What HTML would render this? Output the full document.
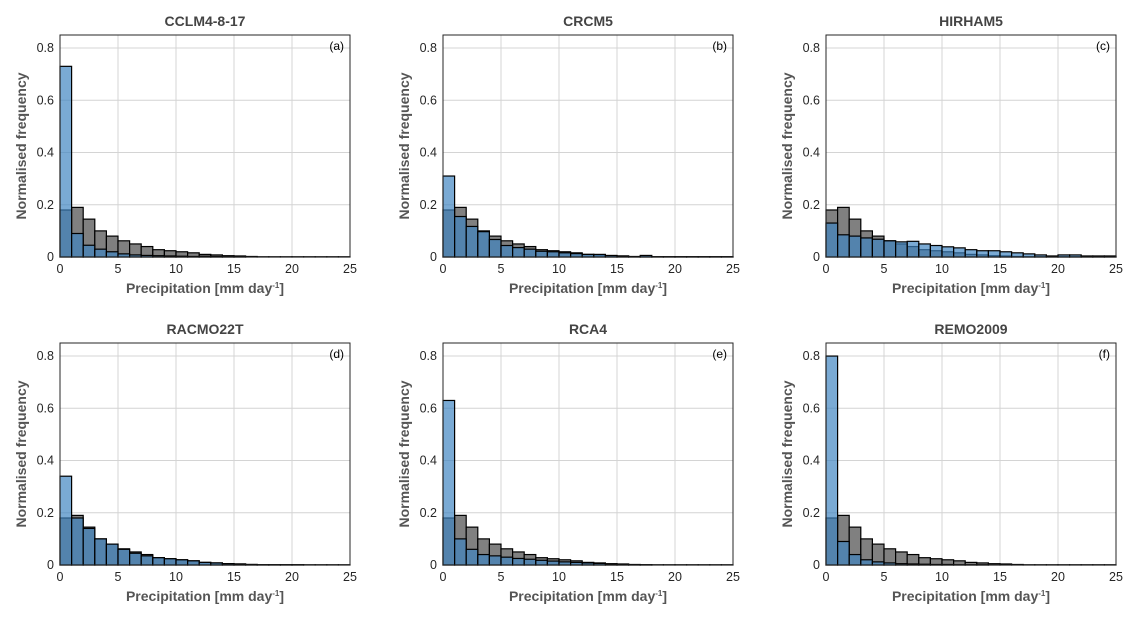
<!DOCTYPE html>
<html><head><meta charset="utf-8"><style>
body{margin:0;background:#fff;}
svg text{font-family:"Liberation Sans",sans-serif;}
</style></head><body>
<svg id="fig" width="1143" height="626" viewBox="0 0 1143 626"></svg>
<script>
const binEdges=[0,1,2,3,4,5,6,7,8,9,10,11,12,13,14,15,16,17,18,19,20,21,22,23,24,25];
const observed=[0.18,0.19,0.145,0.10,0.08,0.062,0.05,0.04,0.028,0.024,0.02,0.016,0.01,0.008,0.005,0.004,0.002,0.001,0.001,0.001,0.001,0.001,0.001,0.001,0.001];
const cclm=[0.73,0.09,0.045,0.03,0.02,0.012,0.008,0.006,0.005,0.004,0.003,0.002,0.003,0.002,0.001,0.001,0,0,0,0,0,0,0,0,0];
const crcm=[0.31,0.155,0.117,0.097,0.067,0.044,0.036,0.03,0.022,0.02,0.016,0.013,0.01,0.01,0.006,0.004,0.001,0.006,0.001,0.001,0.001,0.001,0.001,0.001,0.001];
const hirham=[0.13,0.085,0.08,0.073,0.068,0.062,0.058,0.06,0.05,0.044,0.039,0.035,0.028,0.024,0.024,0.02,0.016,0.012,0.008,0.004,0.008,0.008,0.004,0.004,0.004];
const racmo=[0.34,0.18,0.14,0.1,0.08,0.06,0.045,0.035,0.028,0.024,0.02,0.016,0.01,0.008,0.005,0.004,0.002,0.001,0.001,0.001,0.001,0,0,0,0];
const rca=[0.63,0.1,0.06,0.04,0.035,0.03,0.025,0.022,0.018,0.015,0.012,0.01,0.008,0.006,0.004,0.003,0.001,0.001,0,0,0,0,0,0,0];
const remo=[0.80,0.09,0.04,0.02,0.012,0.008,0.005,0.004,0.003,0.002,0.002,0.001,0.001,0.001,0,0,0,0,0,0,0,0,0,0,0];
const titles=["CCLM4-8-17","CRCM5","HIRHAM5","RACMO22T","RCA4","REMO2009"];
const letters=["(a)","(b)","(c)","(d)","(e)","(f)"];
const models=[cclm,crcm,hirham,racmo,rca,remo];
const xTicks=[0,5,10,15,20,25];
const yTicks=[0,0.2,0.4,0.6,0.8];

const NS="http://www.w3.org/2000/svg";
const svg=document.getElementById('fig');
function mk(tag,attrs,parent){const e=document.createElementNS(NS,tag);for(const k in attrs)e.setAttribute(k,attrs[k]);(parent||svg).appendChild(e);return e;}
const colX=[60,443,826],rowY=[257,565],W=290,YMAX=0.85,H=222;
models.forEach((m,i)=>{
  const x0=colX[i%3],y0=rowY[Math.floor(i/3)];
  const g=mk('g',{});
  
  
  const sx=v=>x0+v/25*W, sy=v=>y0-v/YMAX*H;
  mk('rect',{x:x0,y:y0-H,width:W,height:H,fill:'#fff'},g);
  xTicks.forEach(t=>{if(t>0&&t<25){const l=mk('line',{x1:sx(t),x2:sx(t),y1:y0,y2:y0-H,stroke:'#d4d4d4','stroke-width':1},g);}
    const tx=mk('text',{x:sx(t),y:y0+16,'text-anchor':'middle','font-size':12.5,fill:'#262626'},g);tx.textContent=t;
    });
  yTicks.forEach(t=>{if(t>0){const l=mk('line',{x1:x0,x2:x0+W,y1:sy(t),y2:sy(t),stroke:'#d4d4d4','stroke-width':1},g);}
    const tx=mk('text',{x:x0-6,y:sy(t)+4,'text-anchor':'end','font-size':12.5,fill:'#262626'},g);tx.textContent=t;
    });
  observed.forEach((v,k)=>{if(v<=0)return;const r=mk('rect',{x:sx(binEdges[k]),y:sy(v),width:sx(binEdges[k+1])-sx(binEdges[k]),height:y0-sy(v),fill:'#808080',stroke:'#000','stroke-width':1.2},g);
    });
  m.forEach((v,k)=>{if(v<=0)return;const r=mk('rect',{x:sx(binEdges[k]),y:sy(v),width:sx(binEdges[k+1])-sx(binEdges[k]),height:y0-sy(v),fill:'rgb(62,132,193)','fill-opacity':0.69,stroke:'#000','stroke-width':1.2},g);
    });
  const b=mk('rect',{x:x0,y:y0-H,width:W,height:H,fill:'none',stroke:'#262626','stroke-width':1},g);
  
  const t=mk('text',{x:x0+W/2,y:y0-H-9,'text-anchor':'middle','font-size':14,'font-weight':'bold',fill:'#444'},g);t.textContent=titles[i];
  
  const lt=mk('text',{x:x0+W-6,y:y0-H+15,'text-anchor':'end','font-size':12,fill:'#000'},g);lt.textContent=letters[i];
  
  const xl=mk('text',{x:x0+W/2,y:y0+36,'text-anchor':'middle','font-size':14,'font-weight':'bold',fill:'#555'},g);
  xl.innerHTML='Precipitation [mm day<tspan dy="-5" font-size="8">-1</tspan><tspan dy="5">]</tspan>';
  
  const yl=mk('text',{x:0,y:0,'text-anchor':'middle','font-size':14,'font-weight':'bold',fill:'#555',transform:`translate(${x0-34},${y0-H/2}) rotate(-90)`},g);
  yl.textContent='Normalised frequency';
  
});
</script>
</body></html>
